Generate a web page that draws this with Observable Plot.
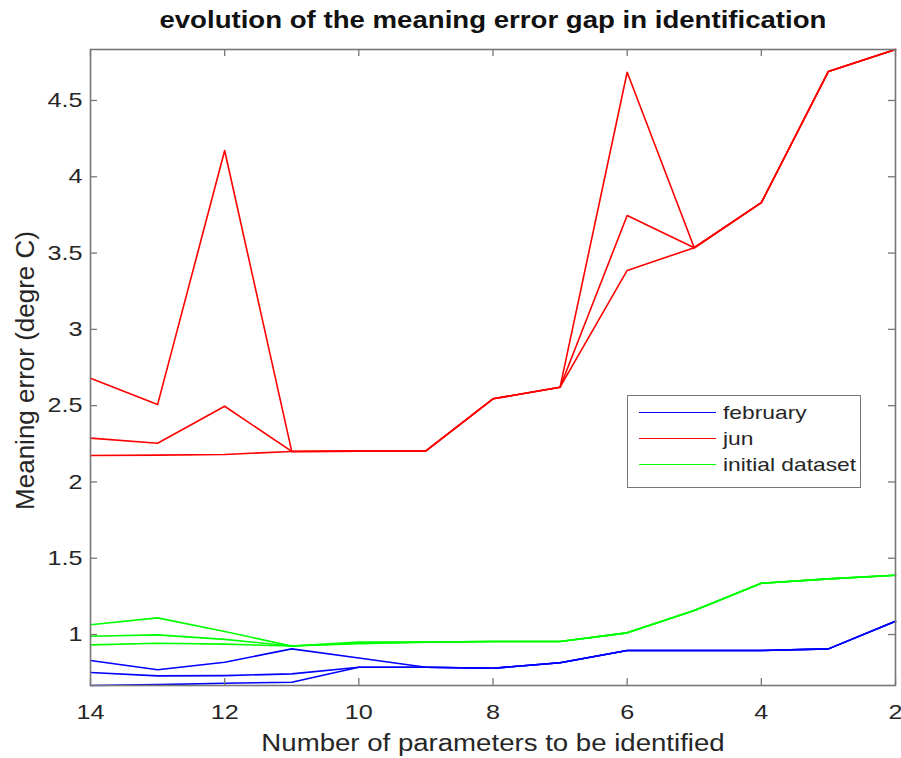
<!DOCTYPE html>
<html>
<head>
<meta charset="utf-8">
<script src="https://cdn.jsdelivr.net/npm/d3@7"></script>
<script src="https://cdn.jsdelivr.net/npm/@observablehq/plot@0.6"></script>
<style>
html, body { margin: 0; padding: 0; background: #fff; }
#wrap { position: relative; width: 901px; height: 758px; overflow: hidden; background: #fff;
  font-family: "Liberation Sans", Arial, Helvetica, sans-serif; }
#title { position: absolute; left: 90px; top: 0; width: 805px; height: 40px; line-height: 40px;
  text-align: center; font-size: 23px; font-weight: bold; color: #111; }
#title span { display: inline-block; transform: scaleX(1.2); white-space: nowrap; }
#plot { position: absolute; left: 0; top: 40px; }
#legend { position: absolute; left: 627px; top: 395px; width: 232px; height: 91px;
  border: 1.5px solid #777; background: #fff; }
.lg-line { position: absolute; left: 11px; width: 77px; height: 0; }
.lg-text { position: absolute; left: 95px; font-size: 19px; line-height: 19px; color: #262626;
  white-space: nowrap; transform: scaleX(1.2); transform-origin: left center; }
</style>
</head>
<body>
<div id="wrap">
  <div id="title"><span></span></div>
  <div id="plot"></div>
  <div id="legend"></div>
</div>
<script>
// ---- data ----
const titleText = "evolution of the meaning error gap in identification";
const xLabel = "Number of parameters to be identified";
const yLabel = "Meaning error (degre C)";

const xParams = [14, 13, 12, 11, 10, 9, 8, 7, 6, 5, 4, 3, 2];

const febRun1 = [0.830, 0.769, 0.818, 0.906, 0.846, 0.786, 0.779, 0.815, 0.895, 0.895, 0.895, 0.906, 1.087];
const febRun2 = [0.751, 0.729, 0.731, 0.742, 0.786, 0.786, 0.779, 0.815, 0.895, 0.895, 0.895, 0.906, 1.087];
const febRun3 = [0.666, 0.672, 0.681, 0.687, 0.786, 0.786, 0.779, 0.815, 0.895, 0.895, 0.895, 0.906, 1.087];

const junRun1 = [2.680, 2.507, 4.172, 2.200, 2.202, 2.203, 2.545, 2.621, 4.685, 3.535, 3.830, 4.690, 4.834];
const junRun2 = [2.287, 2.254, 2.496, 2.200, 2.202, 2.203, 2.545, 2.621, 3.746, 3.535, 3.830, 4.690, 4.834];
const junRun3 = [2.173, 2.176, 2.180, 2.200, 2.202, 2.203, 2.545, 2.621, 3.386, 3.535, 3.830, 4.690, 4.834];

const initRun1 = [1.064, 1.109, 1.020, 0.925, 0.950, 0.950, 0.954, 0.954, 1.011, 1.157, 1.336, 1.365, 1.389];
const initRun2 = [0.989, 0.998, 0.968, 0.925, 0.945, 0.950, 0.954, 0.954, 1.011, 1.157, 1.336, 1.365, 1.389];
const initRun3 = [0.932, 0.943, 0.937, 0.925, 0.940, 0.950, 0.954, 0.954, 1.011, 1.157, 1.336, 1.365, 1.389];

const seriesNames = ["february", "jun", "initial dataset"];
const seriesColors = ["#0000ff", "#ff0000", "#00ff00"];
const seriesRuns = [[febRun1, febRun2, febRun3], [junRun1, junRun2, junRun3], [initRun1, initRun2, initRun3]];

const xTicks = [14, 12, 10, 8, 6, 4, 2];
const yTicks = [1, 1.5, 2, 2.5, 3, 3.5, 4, 4.5];
const xDomain = [14, 2];

// ---- build rows ----
const seriesRows = seriesRuns.map((runs, s) =>
  runs.flatMap((vals, r) => vals.map((v, i) => ({x: xParams[i], y: v, run: `${seriesNames[s]}-${r}`})))
);
const yDomain = d3.extent(seriesRows.flat(), d => d.y);

// ---- layout ----
const W = 901, H = 718, mL = 90, mR = 6, mT = 9, mB = 73;
const frameW = W - mL - mR, frameH = H - mT - mB;
const axisColor = "#777";
const tickLen = 7;

document.querySelector("#title span").textContent = titleText;

const chart = Plot.plot({
  width: W,
  height: H,
  marginLeft: mL,
  marginRight: mR,
  marginTop: mT,
  marginBottom: mB,
  style: {fontFamily: '"Liberation Sans", Arial, Helvetica, sans-serif', fontSize: "21px", color: "#262626", background: "transparent", overflow: "visible"},
  x: {domain: xDomain},
  y: {domain: yDomain},
  marks: [
    ...seriesRows.map((rows, s) => Plot.line(rows, {x: "x", y: "y", z: "run", stroke: seriesColors[s], strokeWidth: 1.6})),
    Plot.frame({stroke: axisColor, strokeWidth: 1.6}),
    // inward ticks on all four sides
    Plot.tickX(xTicks, {x: d => d, insetTop: frameH - tickLen, stroke: axisColor, strokeWidth: 1.3}),
    Plot.tickX(xTicks, {x: d => d, insetBottom: frameH - tickLen, stroke: axisColor, strokeWidth: 1.3}),
    Plot.tickY(yTicks, {y: d => d, insetRight: frameW - tickLen, stroke: axisColor, strokeWidth: 1.3}),
    Plot.tickY(yTicks, {y: d => d, insetLeft: frameW - tickLen, stroke: axisColor, strokeWidth: 1.3}),
    Plot.axisX(xTicks, {tickSize: 0, tickPadding: 19, fontSize: 21, label: null, tickFormat: d => String(d)}),
    Plot.axisY(yTicks, {tickSize: 0, tickPadding: 8, fontSize: 21, label: null, tickFormat: d => String(d)}),
    Plot.text([xLabel], {frameAnchor: "bottom", dy: 58, textAnchor: "middle", lineAnchor: "middle", fontSize: 23, fill: "#262626"}),
    Plot.text([yLabel], {frameAnchor: "left", dx: -65, dy: 3, rotate: -90, textAnchor: "middle", lineAnchor: "middle", fontSize: 26, fill: "#262626"})
  ]
});
document.getElementById("plot").appendChild(chart);

// horizontal stretch of text to match reference glyph widths
d3.select(chart).selectAll("text").each(function() {
  if (this.textContent === yLabel) return;
  const w = this.getComputedTextLength();
  this.setAttribute("textLength", (w * 1.2).toFixed(2));
  this.setAttribute("lengthAdjust", "spacingAndGlyphs");
});

// legend
const legend = document.getElementById("legend");
seriesNames.forEach((name, i) => {
  const cy = 16.5 + i * 26;
  const ln = document.createElement("div");
  ln.className = "lg-line";
  ln.style.top = (cy - 0.8) + "px";
  ln.style.borderTop = `1.6px solid ${seriesColors[i]}`;
  legend.appendChild(ln);
  const tx = document.createElement("div");
  tx.className = "lg-text";
  tx.style.top = (cy + 6.7 - 16.1) + "px";
  tx.textContent = name;
  legend.appendChild(tx);
});
</script>
</body>
</html>
